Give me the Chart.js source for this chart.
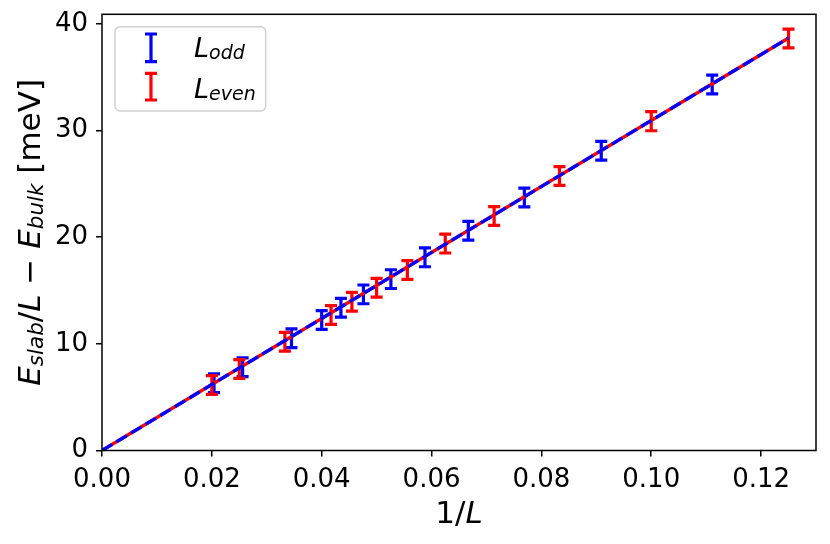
<!DOCTYPE html>
<html>
<head>
<meta charset="utf-8">
<script src="https://cdn.jsdelivr.net/npm/chart.js@4.4.1/dist/chart.umd.min.js"></script>
<style>
  html, body { margin: 0; padding: 0; background: #fff; }
  #wrap { width: 830px; height: 544px; }
</style>
</head>
<body>
<div id="wrap"><canvas id="chart"></canvas></div>
<script>
// 1/L for odd and even slab thicknesses, energies in meV
const oddInvL = [0.0204, 0.0256, 0.0345, 0.0400, 0.0435, 0.0476, 0.0526, 0.0588, 0.0667, 0.0769, 0.0909, 0.1111];
const oddE    = [6.30, 7.80, 10.52, 12.23, 13.38, 14.64, 16.07, 18.11, 20.60, 23.73, 28.10, 34.32];
const oddErr  = [0.88, 0.88, 0.88, 0.88, 0.88, 0.88, 0.88, 0.88, 0.88, 0.88, 0.88, 0.88];

const evenInvL = [0.0200, 0.0250, 0.0333, 0.0417, 0.0455, 0.0500, 0.0556, 0.0625, 0.0714, 0.0833, 0.1000, 0.1250];
const evenE    = [6.14, 7.64, 10.20, 12.70, 13.95, 15.26, 16.92, 19.40, 21.98, 25.73, 30.88, 38.63];
const evenErr  = [0.88, 0.88, 0.88, 0.88, 0.88, 0.88, 0.88, 0.88, 0.88, 0.88, 0.90, 0.88];

// linear fits through the origin
const fitX     = [0, 0.125];
const fitOddY  = [0, 38.68];
const fitEvenY = [0, 38.68];

const xTicks = [0, 0.02, 0.04, 0.06, 0.08, 0.10, 0.12];
const xTickLabels = ['0.00', '0.02', '0.04', '0.06', '0.08', '0.10', '0.12'];
const yTicks = [0, 10, 20, 30, 40];
const yTickLabels = ['0', '10', '20', '30', '40'];

const FONT = '"DejaVu Sans"';
const toPoints = (xs, ys) => xs.map((x, i) => ({ x, y: ys[i] }));

// draw a run of text pieces (upright / italic / subscript)
function richWidth(ctx, parts) {
  let w = 0;
  parts.forEach(p => {
    ctx.font = (p.it ? 'italic ' : '') + p.size + 'px ' + FONT;
    w += ctx.measureText(p.t).width;
  });
  return w;
}
function drawRich(ctx, parts, cx, y) {
  let x = cx - richWidth(ctx, parts) / 2;
  parts.forEach(p => {
    ctx.font = (p.it ? 'italic ' : '') + p.size + 'px ' + FONT;
    ctx.fillText(p.t, x, y + (p.dy || 0));
    x += ctx.measureText(p.t).width;
  });
}
function drawRichLeft(ctx, parts, x, y) {
  drawRich(ctx, parts, x + richWidth(ctx, parts) / 2, y);
}

const capHalf = 6;
const errorBars = {
  id: 'errorBars',
  beforeDatasetsDraw(chart) {
    const ctx = chart.ctx, ys = chart.scales.y;
    chart.data.datasets.forEach((ds, i) => {
      if (!ds.errors) return;
      const meta = chart.getDatasetMeta(i);
      ctx.save();
      ctx.strokeStyle = ds.barColor;
      ctx.lineWidth = 3.2;
      meta.data.forEach((pt, j) => {
        const v = ds.data[j].y, e = ds.errors[j];
        const top = ys.getPixelForValue(v + e), bot = ys.getPixelForValue(v - e);
        ctx.beginPath();
        ctx.moveTo(pt.x, top); ctx.lineTo(pt.x, bot);
        ctx.moveTo(pt.x - capHalf, top); ctx.lineTo(pt.x + capHalf, top);
        ctx.moveTo(pt.x - capHalf, bot); ctx.lineTo(pt.x + capHalf, bot);
        ctx.stroke();
      });
      ctx.restore();
    });
  }
};

const frameAndText = {
  id: 'frameAndText',
  afterDraw(chart) {
    const ctx = chart.ctx, a = chart.chartArea;
    ctx.save();
    ctx.strokeStyle = '#000';
    ctx.lineWidth = 1.5;
    ctx.strokeRect(a.left, a.top, a.right - a.left, a.bottom - a.top);

    ctx.fillStyle = '#000';
    ctx.textBaseline = 'alphabetic';
    // x title
    drawRich(ctx, [
      { t: '1/', size: 31 },
      { t: 'L', size: 31, it: true }
    ], (a.left + a.right) / 2, 522.7);

    // y title
    ctx.save();
    ctx.translate(40, (a.top + a.bottom) / 2);
    ctx.rotate(-Math.PI / 2);
    drawRich(ctx, [
      { t: 'E', size: 31, it: true },
      { t: 'slab', size: 21.5, it: true, dy: 2.5 },
      { t: '/', size: 31 },
      { t: 'L', size: 31, it: true },
      { t: ' \u2212 ', size: 31 },
      { t: 'E', size: 31, it: true },
      { t: 'bulk', size: 21.5, it: true, dy: 2.5 },
      { t: ' [meV]', size: 31 }
    ], 0, 0);
    ctx.restore();

    // legend
    ctx.beginPath();
    ctx.roundRect(115, 26.7, 150.7, 84.3, 5);
    ctx.fillStyle = 'rgba(255,255,255,0.8)';
    ctx.fill();
    ctx.strokeStyle = '#d0d0d0';
    ctx.lineWidth = 1.5;
    ctx.stroke();

    const entries = [
      { color: 'blue', top: 34, bot: 61.7, base: 57, sub: 'odd' },
      { color: 'red', top: 73.3, bot: 100, base: 97.7, sub: 'even' }
    ];
    entries.forEach(en => {
      ctx.strokeStyle = en.color;
      ctx.lineWidth = 3.2;
      ctx.beginPath();
      ctx.moveTo(151, en.top); ctx.lineTo(151, en.bot);
      ctx.moveTo(151 - 6, en.top); ctx.lineTo(151 + 6, en.top);
      ctx.moveTo(151 - 6, en.bot); ctx.lineTo(151 + 6, en.bot);
      ctx.stroke();
      ctx.fillStyle = '#000';
      drawRichLeft(ctx, [
        { t: 'L', size: 27, it: true },
        { t: en.sub, size: 19, it: true, dy: 2 }
      ], 194, en.base);
    });
    ctx.restore();
  }
};

new Chart(document.getElementById('chart'), {
  type: 'scatter',
  data: {
    datasets: [
      // first dataset is painted last, so the dashed blue fit sits on the red one
      {
        label: 'fit odd', data: toPoints(fitX, fitOddY), showLine: true,
        borderColor: 'blue', borderWidth: 3.3, borderDash: [12, 5], pointRadius: 0
      },
      {
        label: 'fit even', data: toPoints(fitX, fitEvenY), showLine: true,
        borderColor: 'red', borderWidth: 3.3, pointRadius: 0
      },
      {
        label: 'L_odd', data: toPoints(oddInvL, oddE), errors: oddErr,
        barColor: 'blue', pointRadius: 0, showLine: false
      },
      {
        label: 'L_even', data: toPoints(evenInvL, evenE), errors: evenErr,
        barColor: 'red', pointRadius: 0, showLine: false
      }
    ]
  },
  options: {
    responsive: true,
    maintainAspectRatio: false,
    animation: false,
    layout: { padding: { top: 14.3, right: 14, left: 0, bottom: 0 } },
    plugins: { legend: { display: false }, tooltip: { enabled: false } },
    scales: {
      x: {
        type: 'linear', min: 0, max: 0.13,
        afterBuildTicks: s => { s.ticks = xTicks.map(v => ({ value: v })); },
        afterFit: s => { s.height = 93.5; s.paddingLeft = 0; s.paddingRight = 0; },
        ticks: {
          callback: (v, i) => xTickLabels[i],
          font: { family: FONT, size: 26 }, color: '#000', padding: 8,
          maxRotation: 0, autoSkip: false
        },
        grid: { drawOnChartArea: false, drawTicks: true, tickLength: 6, color: '#000', lineWidth: 1.5 },
        border: { display: false }
      },
      y: {
        type: 'linear', min: 0, max: 40.9,
        afterBuildTicks: s => { s.ticks = yTicks.map(v => ({ value: v })); },
        afterFit: s => { s.width = 102; s.paddingTop = 0; s.paddingBottom = 0; },
        ticks: {
          callback: (v, i) => yTickLabels[i],
          font: { family: FONT, size: 26 }, color: '#000', padding: 8,
          autoSkip: false
        },
        grid: { drawOnChartArea: false, drawTicks: true, tickLength: 6, color: '#000', lineWidth: 1.5 },
        border: { display: false }
      }
    }
  },
  plugins: [errorBars, frameAndText]
});
</script>
</body>
</html>
